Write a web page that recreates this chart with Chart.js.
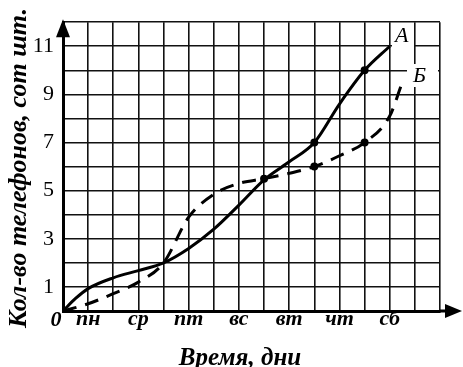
<!DOCTYPE html>
<html>
<head>
<meta charset="utf-8">
<script src="https://cdn.jsdelivr.net/npm/chart.js@4/dist/chart.umd.min.js"></script>
<style>
  html, body { margin: 0; padding: 0; background: #fff; }
  #wrap { width: 463px; height: 367px; }
</style>
</head>
<body>
<div id="wrap"><canvas id="chart" width="463" height="367"></canvas></div>
<script>
// дни по оси X (каждая клетка — один день) и подписи под нечётными линиями
var dayTicks  = [1, 3, 5, 7, 9, 11, 13];
var dayLabels = ['пн', 'ср', 'пт', 'вс', 'вт', 'чт', 'сб'];
// подписи оси Y (сотни штук)
var yTicks = [1, 3, 5, 7, 9, 11];

// кривая А (сплошная)
var aX = [0, 0.5, 1, 2, 3, 4, 5, 6, 7, 8, 9, 10, 11, 12, 13];
var aY = [0, 0.52, 0.93, 1.38, 1.68, 2, 2.6, 3.4, 4.4, 5.45, 6.2, 7, 8.6, 10, 11];
var aDots = [10, 12];

// кривая Б (пунктир)
var bX = [0, 1, 2, 3, 4, 5, 6, 7, 8, 9, 10, 11, 12, 13, 13.45];
var bY = [0, 0.3, 0.72, 1.2, 2, 3.9, 4.85, 5.3, 5.5, 5.72, 6, 6.45, 7, 8.1, 9.35];
var bDots = [8, 10, 12];

var SERIF = '"Liberation Serif", "DejaVu Serif", serif';

function pts(xs, ys) {
  return xs.map(function (x, i) { return { x: x, y: ys[i] }; });
}

function dotRadius(list) {
  return function (c) {
    var p = c.raw;
    return p && list.indexOf(p.x) >= 0 ? 4 : 0;
  };
}

// стрелки осей, «0», названия осей и буквы у кривых
var decor = {
  id: 'decor',
  beforeDatasetsDraw: function (chart) {
    var ctx = chart.ctx;
    ctx.save();
    ctx.fillStyle = '#fff';
    ctx.fillRect(392, 24, 22, 25);
    ctx.fillRect(407, 64, 31, 23);
    ctx.restore();
  },
  afterDraw: function (chart) {
    var ctx = chart.ctx;
    var xs = chart.scales.x, ys = chart.scales.y;
    var x0 = xs.getPixelForValue(0), y0 = ys.getPixelForValue(0);
    var right = xs.right, top = ys.top;
    ctx.save();
    ctx.fillStyle = '#000';
    ctx.strokeStyle = '#000';
    ctx.lineWidth = 3;
    // ось X продолжается за сетку
    ctx.beginPath();
    ctx.moveTo(right, y0);
    ctx.lineTo(right + 8, y0);
    ctx.stroke();
    ctx.beginPath();
    ctx.moveTo(right + 22, y0);
    ctx.lineTo(right + 5, y0 - 7);
    ctx.lineTo(right + 5, y0 + 7);
    ctx.closePath();
    ctx.fill();
    // стрелка оси Y
    ctx.beginPath();
    ctx.moveTo(x0, top - 3);
    ctx.lineTo(x0 - 7, top + 15);
    ctx.lineTo(x0 + 7, top + 15);
    ctx.closePath();
    ctx.fill();

    ctx.font = 'italic bold 22px ' + SERIF;
    ctx.textAlign = 'center';
    ctx.textBaseline = 'alphabetic';
    ctx.fillText('0', x0 - 7, y0 + 15);

    ctx.font = 'italic bold 25px ' + SERIF;
    ctx.fillText('Время, дни', 240, 365);

    ctx.save();
    ctx.translate(26, 168);
    ctx.rotate(-Math.PI / 2);
    ctx.font = 'italic bold 26px ' + SERIF;
    ctx.fillText('Кол-во телефонов, сот шт.', 0, 0);
    ctx.restore();

    ctx.font = 'italic 22px ' + SERIF;
    ctx.textAlign = 'left';
    ctx.fillText('A', 395, 42);
    ctx.fillText('Б', 413, 82);
    ctx.restore();
  }
};

new Chart(document.getElementById('chart').getContext('2d'), {
  type: 'line',
  data: {
    datasets: [{
      label: 'A',
      data: pts(aX, aY),
      borderColor: '#000',
      backgroundColor: '#000',
      borderWidth: 3,
      cubicInterpolationMode: 'monotone',
      pointRadius: dotRadius(aDots),
      pointBorderWidth: 0,
      fill: false
    }, {
      label: 'Б',
      data: pts(bX, bY),
      borderColor: '#000',
      backgroundColor: '#000',
      borderWidth: 3,
      borderDash: [14, 9],
      cubicInterpolationMode: 'monotone',
      pointRadius: dotRadius(bDots),
      pointBorderWidth: 0,
      fill: false
    }]
  },
  options: {
    responsive: false,
    animation: false,
    devicePixelRatio: 1,
    layout: { padding: { top: 13, right: 23, left: 0, bottom: 0 } },
    plugins: { legend: { display: false }, tooltip: { enabled: false } },
    scales: {
      x: {
        type: 'linear',
        min: 0,
        max: 15,
        afterFit: function (s) { s.height = 56; },
        grid: { color: '#111', lineWidth: 1.6, drawTicks: false },
        border: { color: '#000', width: 3 },
        ticks: {
          stepSize: 1,
          autoSkip: false,
          maxRotation: 0,
          padding: -5,
          color: '#000',
          font: { family: SERIF, size: 22, style: 'italic', weight: 'bold' },
          callback: function (v) {
            var i = dayTicks.indexOf(v);
            return i >= 0 ? dayLabels[i] : '';
          }
        }
      },
      y: {
        min: 0,
        max: 12,
        afterFit: function (s) { s.width = 63; },
        grid: { color: '#111', lineWidth: 1.6, drawTicks: false },
        border: { color: '#000', width: 3 },
        ticks: {
          stepSize: 1,
          autoSkip: false,
          padding: 9,
          color: '#000',
          font: { family: SERIF, size: 22 },
          callback: function (v) {
            return yTicks.indexOf(v) >= 0 ? String(v) : '';
          }
        }
      }
    }
  },
  plugins: [decor]
});
</script>
</body>
</html>
